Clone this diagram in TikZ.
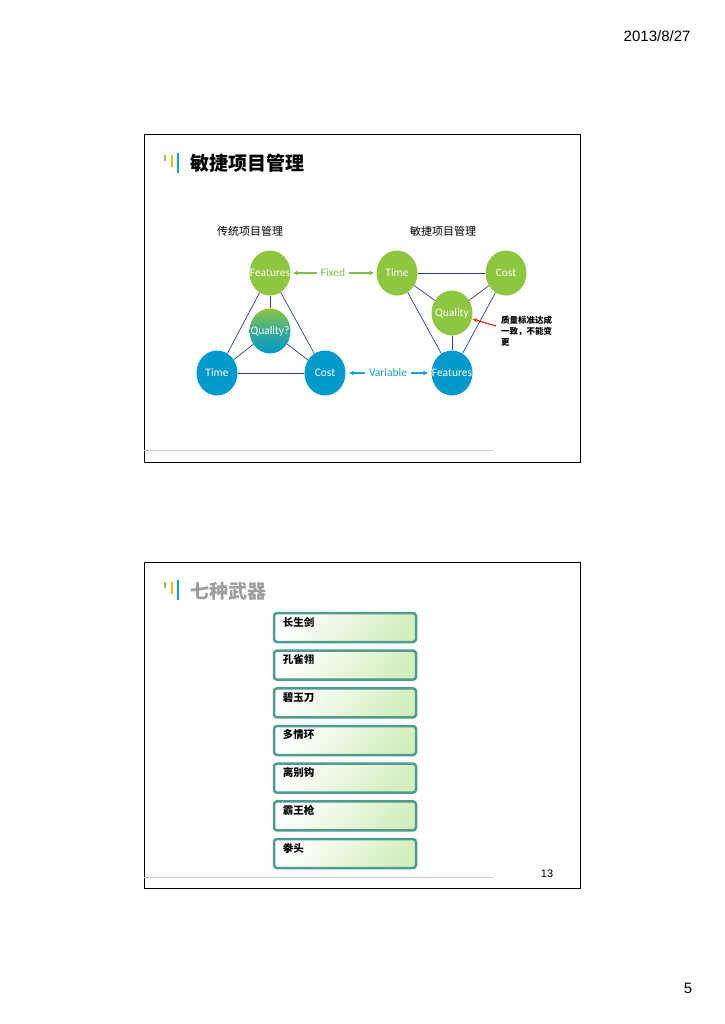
\documentclass[tikz,border=0pt]{standalone}
\usepackage{fontspec}
\setmainfont{Liberation Sans}
\newfontfamily\cjk{Noto Sans CJK SC}
\newfontfamily\ballfont{Carlito}
\usepackage{tikz}
\usetikzlibrary{arrows.meta,positioning,shapes.geometric}
\definecolor{ag-green}{HTML}{8DC63F}
\definecolor{ag-blue}{HTML}{0099CC}
\definecolor{ag-navy}{HTML}{2D3E98}
\definecolor{ag-fixed}{HTML}{7DC242}
\definecolor{ag-var}{HTML}{1AA0D0}
\definecolor{ag-red}{HTML}{E2401C}
\definecolor{ag-teal}{HTML}{4F9B8C}
\definecolor{ag-pale}{HTML}{D3EEBE}
\definecolor{mark-green}{HTML}{8DC63F}
\definecolor{mark-yellow}{HTML}{F6B700}
\definecolor{mark-blue}{HTML}{00A2E8}

\begin{document}
\begin{tikzpicture}[x=1pt,y=-1pt,
    ball/.style={ellipse, minimum width=41pt, minimum height=45pt, inner sep=-6pt,
      text=white, font=\ballfont\fontsize{11.5}{13}\selectfont},
    greenball/.style={ball, fill=ag-green},
    blueball/.style={ball, fill=ag-blue},
    link/.style={draw=ag-navy, line width=0.7pt},
    fixarrow/.style={draw=ag-fixed, line width=1.2pt, -{Latex[length=5pt,width=5pt]}, shorten >=2pt},
    vararrow/.style={draw=ag-var, line width=1.2pt, -{Latex[length=5pt,width=5pt]}, shorten >=3pt},
    weapon/.style={draw=ag-teal, line width=2.5pt, rounded corners=3pt,
      minimum width=142pt, minimum height=29pt, top color=white, bottom color=ag-pale, shading angle=45},
    weapontext/.style={font=\cjk\bfseries\fontsize{10.5}{12}\selectfont, inner sep=0pt}]
\useasboundingbox[fill=white] (0,0) rectangle (724,1024);

% page header and footer
\node[anchor=east, font=\fontsize{15}{17}\selectfont] (date) at (694,36) {2013/8/27};
\node[font=\fontsize{15}{17}\selectfont] (pageno) at (688,988) {5};

% ---- slide 13a ----
\draw[line width=1pt] (144,135) rectangle (580,462);
\draw[black!20, line width=1pt] (144,450) -- (493,450);
\draw[mark-green, line width=2.5pt] (165,155) -- (165,161);
\draw[mark-yellow, line width=2.5pt] (172,155) -- (172,167);
\draw[mark-blue, line width=2.5pt] (178,153) -- (178,173);
\node[anchor=west, font=\cjk\bfseries\fontsize{19}{22}\selectfont] (title1) at (187,163) {敏捷项目管理};

\node[font=\cjk\fontsize{11}{13}\selectfont] (trad) at (250,231) {传统项目管理};
\node[font=\cjk\fontsize{11}{13}\selectfont] (agile) at (443,231) {敏捷项目管理};

% traditional triangle
\node[greenball] (lfeat) at (270,273) {Features};
\node[ball, top color=ag-green, bottom color=ag-blue, middle color=ag-green!40!ag-blue] (lqual) at (270,331) {Quality?};
\node[blueball] (ltime) at (217,373) {Time};
\node[blueball] (lcost) at (325,373) {Cost};
\draw[link] (lfeat) -- (ltime);
\draw[link] (lfeat) -- (lcost);
\draw[link] (ltime) -- (lcost);
\draw[link] (lfeat) -- (lqual);
\draw[link] (lqual) -- (ltime);
\draw[link] (lqual) -- (lcost);

% agile triangle
\node[greenball] (rtime) at (397,273) {Time};
\node[greenball] (rcost) at (506,273) {Cost};
\node[greenball] (rqual) at (452,313) {Quality};
\node[blueball] (rfeat) at (452,373) {Features};
\draw[link] (rtime) -- (rcost);
\draw[link] (rtime) -- (rfeat);
\draw[link] (rcost) -- (rfeat);
\draw[link] (rtime) -- (rqual);
\draw[link] (rcost) -- (rqual);
\draw[link] (rqual) -- (rfeat);

\node[text=ag-fixed, inner xsep=4pt, font=\ballfont\fontsize{11.5}{13}\selectfont] (fixed) at (333,273) {Fixed};
\draw[fixarrow] (fixed) -- (lfeat);
\draw[fixarrow] (fixed) -- (rtime);
\node[text=ag-var, inner xsep=4pt, font=\ballfont\fontsize{11.5}{13}\selectfont] (variable) at (388,373) {Variable};
\draw[vararrow] (variable) -- (lcost);
\draw[vararrow] (variable) -- (rfeat);

\node[anchor=north west, align=left, inner sep=0pt, font=\cjk\bfseries\fontsize{8.5}{11}\selectfont] (note) at (501,316) {质量标准达成\\一致，不能变\\更};
\coordinate (notetip) at (496,326);
\draw[ag-red, line width=1.3pt, -{Latex[length=5pt,width=4.5pt]}] (notetip) -- (rqual);

% ---- slide 13 ----
\draw[line width=1pt] (144,562) rectangle (580,888);
\draw[black!20, line width=1pt] (144,877) -- (493,877);
\draw[mark-green, line width=2.5pt] (165,582) -- (165,588);
\draw[mark-yellow, line width=2.5pt] (172,582) -- (172,594);
\draw[mark-blue, line width=2.5pt] (178,580) -- (178,600);
\node[anchor=west, text=black!38, font=\cjk\bfseries\fontsize{19}{22}\selectfont] (title2) at (187,591) {七种武器};
\node[font=\fontsize{11}{13}\selectfont] (slideno) at (547,874) {13};

\foreach \name [count=\i] in {长生剑,孔雀翎,碧玉刀,多情环,离别钩,霸王枪,拳头} {
  \node[weapon] (w\i) at (345,{627.5+37.67*(\i-1)}) {};
  \node[weapontext, below right=5pt and 10pt of w\i.north west] {\name};
}
\end{tikzpicture}
\end{document}
